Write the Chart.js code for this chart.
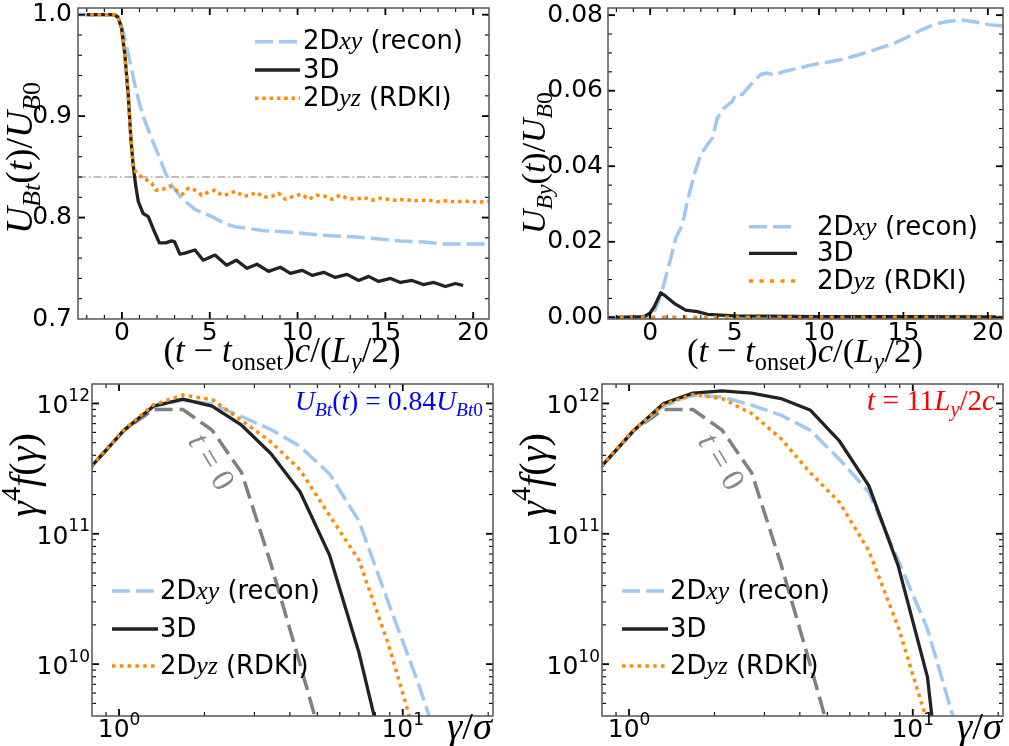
<!DOCTYPE html>
<html><head><meta charset="utf-8">
<script src="https://cdn.jsdelivr.net/npm/chart.js@4/dist/chart.umd.min.js"></script>
<style>
html,body{margin:0;padding:0;background:#fff;}
#wrap{position:relative;width:1009px;height:746px;overflow:hidden;background:#fff;}
canvas{position:absolute;}
</style></head><body>
<div id="wrap">
<canvas id="c1" width="504" height="373" style="left:0;top:0"></canvas>
<canvas id="c2" width="505" height="373" style="left:504px;top:0"></canvas>
<canvas id="c3" width="504" height="373" style="left:0;top:373px"></canvas>
<canvas id="c4" width="505" height="373" style="left:504px;top:373px"></canvas>
</div>
<script>
// ---------------- DATA ----------------
// Panel (a): U_Bt(t)/U_B0 versus (t - t_onset) c/(L_y/2)
const tBtXY = [-2.5,-1.5,-0.5,-0.2,0.17,0.45,0.74,1.02,1.31,1.69,2.07,2.45,2.83,3.40,4.16,5.11,5.87,6.44,6.93,8.07,9.21,10.54,11.87,13.2,14.53,15.86,17.19,18.33,19.47,20.9];
const uBtXY = [1.0,1.0,1.0,0.998,0.977,0.954,0.931,0.911,0.895,0.878,0.862,0.845,0.832,0.819,0.808,0.801,0.794,0.791,0.790,0.787,0.786,0.784,0.782,0.781,0.779,0.777,0.776,0.774,0.774,0.774];
const tBt3D = [-2.0,-0.4,-0.21,-0.02,0.17,0.36,0.51,0.64,0.78,0.93,1.21,1.50,1.78,2.13,2.49,2.83,3.0,3.30,3.59,4.16,4.63,5.30,5.96,6.51,7.12,7.69,8.35,9.02,9.59,10.26,10.83,11.49,12.15,12.82,13.48,14.05,14.62,15.29,15.86,16.52,17.15,17.76,18.42,18.99,19.43];
const uBt3D = [1.0,1.0,0.997,0.987,0.960,0.921,0.878,0.852,0.832,0.816,0.804,0.801,0.789,0.775,0.775,0.777,0.776,0.764,0.765,0.768,0.758,0.763,0.753,0.758,0.750,0.754,0.747,0.751,0.745,0.748,0.743,0.746,0.741,0.744,0.738,0.742,0.737,0.740,0.736,0.738,0.734,0.736,0.732,0.735,0.733];
const tBtYZ = [-1.8,-0.4,-0.21,-0.02,0.17,0.36,0.51,0.64,0.78,0.93,1.31,1.69,1.94,2.35,2.73,3.08,3.44,3.78,4.16,4.54,4.92,5.30,5.68,6.06,6.46,6.93,7.31,7.65,8.07,8.54,8.92,9.30,9.78,10.22,10.64,11.08,11.56,11.97,12.41,12.82,13.30,13.77,14.21,14.69,15.14,15.62,16.10,16.55,17.0,17.5,17.96,18.4,18.9,19.38,19.85,20.3,20.9];
const uBtYZ = [1.0,1.0,0.997,0.987,0.960,0.921,0.878,0.852,0.845,0.842,0.838,0.834,0.827,0.828,0.831,0.827,0.823,0.829,0.827,0.822,0.825,0.827,0.822,0.823,0.826,0.821,0.822,0.825,0.820,0.821,0.824,0.818,0.821,0.823,0.818,0.822,0.821,0.818,0.822,0.819,0.818,0.820,0.817,0.819,0.818,0.817,0.818,0.8165,0.817,0.817,0.8157,0.8165,0.8155,0.816,0.816,0.8152,0.816];
const tThreshold = [-2.5, 20.9];
const uThreshold = [0.84, 0.84];
const ticksTime = [0, 5, 10, 15, 20];
const ticksBt = [0.7, 0.8, 0.9, 1.0];

// Panel (b): U_By(t)/U_B0
const tByXY = [-2.5,-0.5,0.0,0.3,0.63,1.12,1.51,1.91,2.2,2.6,2.99,3.39,3.68,3.98,4.37,4.86,5.06,5.46,5.95,6.54,6.93,7.33,7.92,8.83,9.61,10.6,11.58,12.57,13.55,14.54,15.32,16.11,16.9,17.69,18.48,19.27,20.05,20.9];
const uByXY = [0,0,0.0003,0.002,0.0059,0.0139,0.021,0.0245,0.0307,0.0377,0.043,0.0457,0.0475,0.0528,0.0554,0.0572,0.059,0.059,0.0616,0.0643,0.0647,0.0641,0.0651,0.066,0.0669,0.0676,0.0685,0.0698,0.0712,0.0727,0.0744,0.0762,0.0777,0.0784,0.0787,0.0782,0.0775,0.0771];
const tBy3D = [-2.0,-0.35,0.0,0.24,0.63,0.92,1.42,2.1,2.8,3.39,4.96,7.0,10.0,15.0,20.5];
const uBy3D = [0,0.0002,0.0012,0.0028,0.0065,0.0056,0.0037,0.0019,0.0015,0.0008,0.0004,0.0003,0.0002,0.00015,0.0001];
const tByYZ = [-1.8,0,5,10,15,20,20.9];
const uByYZ = [0,0,0,0,0,0,0];
const ticksBy = [0, 0.02, 0.04, 0.06, 0.08];

// Panels (c),(d): gamma^4 f(gamma) versus gamma/sigma
const gammaBins = [0.649,0.822,1.042,1.323,1.679,2.128,2.704,3.428,4.345,5.521,6.998,8.872,11.27,14.29];
const specT0  = [1.95e11,3.52e11,6.24e11,8.99e11,8.99e11,6.24e11,2.95e11,5.89e10,1.0e10,1.58e9];
const specC_XY = [1.95e11,3.52e11,6.24e11,9.55e11,1.06e12,9.89e11,7.94e11,6.31e11,4.68e11,2.88e11,1.26e11,3.02e10,7.41e9,1.58e9];
const specC_3D = [1.95e11,3.52e11,6.24e11,9.53e11,1.08e12,9.53e11,6.81e11,4.13e11,2.10e11,6.86e10,1.24e10,1.45e9];
const specC_YZ = [1.95e11,3.55e11,6.31e11,9.77e11,1.16e12,1.07e12,7.41e11,5.07e11,3.09e11,1.38e11,6.31e10,1.45e10,2.45e9];
const specD_XY = [1.95e11,3.52e11,6.24e11,9.55e11,1.16e12,1.12e12,9.70e11,8.13e11,6.24e11,3.72e11,2.09e11,6.31e10,1.86e10,3.16e9];
const specD_3D = [1.95e11,3.52e11,6.24e11,1.0e12,1.20e12,1.25e12,1.20e12,1.09e12,8.91e11,5.13e11,2.34e11,5.75e10,7.94e9,7.94e7];
const specD_YZ = [1.95e11,3.55e11,6.31e11,9.77e11,1.17e12,1.09e12,8.38e11,5.38e11,2.95e11,1.74e11,7.41e10,1.95e10,3.55e9];
const ticksGamma = [1, 10];
const expGamma = ['0', '1'];
const ticksSpec = [1e10, 1e11, 1e12];
const expSpec = ['10', '11', '12'];

// ---------------- STYLES ----------------
const C_XY = 'rgb(160,200,240)', C_3D = '#222222', C_YZ = '#ff8c00', C_T0 = '#808080';
const stXY = {borderColor: C_XY, borderWidth: 3.5, borderDash: [18, 6]};
const st3D = {borderColor: C_3D, borderWidth: 3.3, borderDash: []};
const stYZa = {borderColor: C_YZ, borderWidth: 3.5, borderDash: [3.5, 3.8]};
const stYZb = {borderColor: C_YZ, borderWidth: 3.5, borderDash: [4, 6.5]};
const stYZc = {borderColor: C_YZ, borderWidth: 3.5, borderDash: [3.5, 4.3]};
const stT0 = {borderColor: C_T0, borderWidth: 3.5, borderDash: [18, 7]};
const stThr = {borderColor: '#aaaaaa', borderWidth: 1.5, borderDash: [8, 3, 1.5, 3]};

Chart.defaults.font.family = '"DejaVu Sans"';
const TICK_SIZE = 25;

// ---------------- TEXT HELPERS ----------------
const SANS = '"DejaVu Sans"', SERIF = '"Liberation Serif"';
function fontOf(kind, size) {
  if (kind === 'sans') return size + 'px ' + SANS;
  if (kind === 'it') return 'italic ' + size + 'px ' + SERIF;
  return size + 'px ' + SERIF;
}
function layoutRich(ctx, parts, size) {
  let w = 0; const items = [];
  for (const p of parts) {
    const pos = p[2];
    const s = pos ? size * (p[3] || 0.7) : size;
    const dy = pos === 'sub' ? size * 0.22 : (pos === 'sup' ? -size * (p[4] || 0.42) : 0);
    ctx.font = fontOf(p[1], s);
    const tw = ctx.measureText(p[0]).width;
    items.push({t: p[0], font: ctx.font, x: w, dy: dy});
    w += tw;
  }
  return {items: items, w: w};
}
function drawRich(ctx, sp) {
  let size = sp.size;
  let L = layoutRich(ctx, sp.parts, size);
  if (sp.fitW) { size = size * sp.fitW / L.w; L = layoutRich(ctx, sp.parts, size); }
  ctx.save();
  ctx.translate(sp.x, sp.y);
  if (sp.rot) ctx.rotate(sp.rot);
  const x0 = sp.align === 'center' ? -L.w / 2 : (sp.align === 'right' ? -L.w : 0);
  const y0 = sp.vmid ? size * 0.3 : 0;
  ctx.fillStyle = sp.color || '#000';
  ctx.textBaseline = 'alphabetic'; ctx.textAlign = 'left';
  for (const it of L.items) { ctx.font = it.font; ctx.fillText(it.t, x0 + it.x, y0 + it.dy); }
  ctx.restore();
  return size;
}

const L_XY = [['2D', 'sans'], ['xy', 'it'], [' (recon)', 'sans']];
const L_3D = [['3D', 'sans']];
const L_YZ = [['2D', 'sans'], ['yz', 'it'], [' (RDKI)', 'sans']];
const XLAB_T = [['(', 'rm'], ['t', 'it'], [' \u2212 ', 'rm'], ['t', 'it'], ['onset', 'rm', 'sub'], [')', 'rm'], ['c', 'it'], ['/(', 'rm'], ['L', 'it'], ['y', 'it', 'sub'], ['/2)', 'rm']];
const YLAB_BT = [['U', 'it'], ['Bt', 'it', 'sub'], ['(', 'rm'], ['t', 'it'], [')/', 'rm'], ['U', 'it'], ['B', 'it', 'sub'], ['0', 'rm', 'sub']];
const YLAB_BY = [['U', 'it'], ['By', 'it', 'sub'], ['(', 'rm'], ['t', 'it'], [')/', 'rm'], ['U', 'it'], ['B', 'it', 'sub'], ['0', 'rm', 'sub']];
const XLAB_G = [['\u03b3', 'it'], ['/', 'rm'], ['\u03c3', 'it']];
const YLAB_G = [['\u03b3', 'it'], ['4', 'rm', 'sup'], ['f', 'it'], ['(', 'rm'], ['\u03b3', 'it'], [')', 'rm']];
const ANN_C = [['U', 'it'], ['Bt', 'it', 'sub'], ['(', 'rm'], ['t', 'it'], [')', 'rm'], [' = ', 'rm'], ['0.84', 'rm'], ['U', 'it'], ['Bt', 'it', 'sub'], ['0', 'rm', 'sub']];
const ANN_D = [['t', 'it'], [' = ', 'rm'], ['11', 'rm'], ['L', 'it'], ['y', 'it', 'sub'], ['/2', 'rm'], ['c', 'it']];
const ANN_T0 = [['t', 'it'], [' = ', 'rm'], ['0', 'rm']];

// ---------------- DECORATION PLUGIN ----------------
function makeDeco(d) {
  return {
    id: 'deco',
    afterDraw(chart) {
      const ctx = chart.ctx, ca = chart.chartArea, xs = chart.scales.x, ys = chart.scales.y;
      ctx.save();
      ctx.setLineDash([]);
      ctx.strokeStyle = '#000';
      const seg = (a, b, c, e) => { ctx.beginPath(); ctx.moveTo(a, b); ctx.lineTo(c, e); ctx.stroke(); };
      const xt = (vals, len, lw) => {
        ctx.lineWidth = lw;
        for (const v of vals) {
          const p = xs.getPixelForValue(v);
          if (p < ca.left + 1 || p > ca.right - 1) continue;
          seg(p, ca.bottom, p, ca.bottom - len); seg(p, ca.top, p, ca.top + len);
        }
      };
      const yt = (vals, len, lw) => {
        ctx.lineWidth = lw;
        for (const v of vals) {
          const p = ys.getPixelForValue(v);
          if (p < ca.top + 1 || p > ca.bottom - 1) continue;
          seg(ca.left, p, ca.left + len, p); seg(ca.right, p, ca.right - len, p);
        }
      };
      xt(d.xMinor, 4, 1.1); xt(d.xMajor, 7, 1.8);
      yt(d.yMinor, 4, 1.1); yt(d.yMajor, 7, 1.8);
      ctx.strokeStyle = '#555'; ctx.lineWidth = 1.5;
      ctx.strokeRect(ca.left, ca.top, ca.right - ca.left, ca.bottom - ca.top);
      // power-of-ten tick labels for log axes (positions from the chart's scales)
      if (d.logLabels) {
        const pw = (e) => [['10', 'sans'], [e, 'sans', 'sup', 0.68, 0.5]];
        d.logLabels.x.ticks.forEach((v, i) => {
          drawRich(ctx, {parts: pw(d.logLabels.x.exps[i]), size: TICK_SIZE, x: xs.getPixelForValue(v), y: ca.bottom + 21, align: 'center'});
        });
        d.logLabels.y.ticks.forEach((v, i) => {
          drawRich(ctx, {parts: pw(d.logLabels.y.exps[i]), size: TICK_SIZE, x: ca.left - 2, y: ys.getPixelForValue(v) + 10, align: 'right'});
        });
      }
      // legend
      const lg = d.legend;
      let lsize = null;
      lg.entries.forEach((e, i) => {
        const y = lg.rows[i];
        ctx.save();
        ctx.beginPath();
        ctx.strokeStyle = e.st.borderColor; ctx.lineWidth = e.st.borderWidth;
        ctx.setLineDash(e.st.borderDash); ctx.lineCap = 'butt';
        ctx.moveTo(lg.x0, y); ctx.lineTo(lg.x1, y); ctx.stroke();
        ctx.restore();
        if (lsize === null) {
          lsize = drawRich(ctx, {parts: e.parts, size: 21, fitW: lg.fitW, x: lg.tx, y: y, align: 'left', vmid: true});
        } else {
          drawRich(ctx, {parts: e.parts, size: lsize, x: lg.tx, y: y, align: 'left', vmid: true});
        }
      });
      for (const t of d.texts) drawRich(ctx, t);
      ctx.restore();
    }
  };
}

function ds(xv, yv, st, order) {
  return Object.assign({
    data: xv.map((x, i) => ({x: x, y: yv[i]})),
    pointRadius: 0, pointHoverRadius: 0, tension: 0, fill: false, clip: 0, order: order,
    borderCapStyle: 'butt', borderJoinStyle: 'round'
  }, st);
}

function axis(type, min, max, ticks, labelFn, isX, size, pad, showLabels) {
  return {
    type: type, min: min, max: max, position: isX ? 'bottom' : 'left',
    grid: {display: false, drawTicks: false}, border: {display: false},
    ticks: {
      display: showLabels,
      autoSkip: false, maxRotation: 0, minRotation: 0, padding: pad, color: '#000',
      font: {family: 'DejaVu Sans', size: TICK_SIZE, lineHeight: 1},
      callback: function (v) { return labelFn(v); }
    },
    afterBuildTicks: function (s) { s.ticks = ticks.map(v => ({value: v})); },
    afterFit: function (s) {
      if (isX) s.height = size; else s.width = size;
      s.paddingLeft = 0; s.paddingRight = 0; s.paddingTop = 0; s.paddingBottom = 0;
    }
  };
}

function makeChart(id, cfg) {
  return new Chart(document.getElementById(id), {
    type: 'line',
    data: {datasets: cfg.datasets},
    options: {
      responsive: false, animation: false, devicePixelRatio: 1,
      layout: {padding: cfg.pad, autoPadding: false},
      plugins: {legend: {display: false}, tooltip: {enabled: false}},
      scales: {x: cfg.x, y: cfg.y}
    },
    plugins: [makeDeco(cfg.deco)]
  });
}

function range(a, b, step) { const r = []; for (let v = a; v <= b + 1e-9; v += step) r.push(+v.toFixed(6)); return r; }
function logMinor(d0, d1) { const r = []; for (let d = d0; d <= d1; d++) for (let m = 2; m <= 9; m++) r.push(m * Math.pow(10, d)); return r; }

const legendEntries = (stYZ) => [
  {st: stXY, parts: L_XY}, {st: st3D, parts: L_3D}, {st: stYZ, parts: L_YZ}
];
const logLabels = {x: {ticks: ticksGamma, exps: expGamma}, y: {ticks: ticksSpec, exps: expSpec}};

// Panel (a)
makeChart('c1', {
  pad: {left: 0, top: 8, right: 15, bottom: 0},
  datasets: [
    ds(tBtXY, uBtXY, stXY, 3), ds(tBt3D, uBt3D, st3D, 2), ds(tBtYZ, uBtYZ, stYZa, 1),
    ds(tThreshold, uThreshold, stThr, 5)
  ],
  x: axis('linear', -2.5, 20.9, ticksTime, v => String(v), true, 54, 2, true),
  y: axis('linear', 0.7, 1.0066, ticksBt, v => v.toFixed(1), false, 78, 6, true),
  deco: {
    xMajor: ticksTime, xMinor: range(-2, 20, 1), yMajor: ticksBt, yMinor: range(0.7, 1.0, 0.02),
    legend: {rows: [41.7, 70, 98.3], x0: 255, x1: 300, tx: 303, fitW: 160, entries: legendEntries(stYZa)},
    texts: [
      {parts: XLAB_T, size: 27, fitW: 237, x: 282, y: 362, align: 'center'},
      {parts: YLAB_BT, size: 30, fitW: 152, x: 32, y: 158, align: 'center', rot: -Math.PI / 2}
    ]
  }
});

// Panel (b)
makeChart('c2', {
  pad: {left: 0, top: 8, right: 6, bottom: 0},
  datasets: [ds(tByXY, uByXY, stXY, 3), ds(tBy3D, uBy3D, st3D, 2), ds(tByYZ, uByYZ, stYZb, 1)],
  x: axis('linear', -2.5, 20.9, ticksTime, v => String(v), true, 54, 2, true),
  y: axis('linear', -0.00045, 0.0819, ticksBy, v => v.toFixed(2), false, 104, 5, true),
  deco: {
    xMajor: ticksTime, xMinor: range(-2, 20, 1), yMajor: ticksBy, yMinor: range(0, 0.08, 0.005),
    legend: {rows: [226.7, 253.3, 281], x0: 245, x1: 293, tx: 313, fitW: 161, entries: legendEntries(stYZb)},
    texts: [
      {parts: XLAB_T, size: 27, fitW: 236, x: 301, y: 362, align: 'center'},
      {parts: YLAB_BY, size: 30, fitW: 142, x: 41, y: 163, align: 'center', rot: -Math.PI / 2}
    ]
  }
});

// Panel (c)
makeChart('c3', {
  pad: {left: 0, top: 11, right: 11, bottom: 0},
  datasets: [
    ds(gammaBins, specC_XY, stXY, 3), ds(gammaBins, specC_3D, st3D, 2), ds(gammaBins, specC_YZ, stYZc, 1),
    ds(gammaBins, specT0, stT0, 4)
  ],
  x: axis('logarithmic', 0.803, 20.8, ticksGamma, v => '', true, 30, 0, false),
  y: axis('logarithmic', 4.0e9, 1.41e12, ticksSpec, v => '', false, 92, 2, false),
  deco: {
    xMajor: ticksGamma, xMinor: logMinor(-1, 1), yMajor: ticksSpec, yMinor: logMinor(9, 11),
    logLabels: logLabels,
    legend: {rows: [218, 256, 293], x0: 112, x1: 158, tx: 160, fitW: 160, entries: legendEntries(stYZc)},
    texts: [
      {parts: XLAB_G, size: 28, fitW: 45, x: 492, y: 366, align: 'right'},
      {parts: YLAB_G, size: 28, fitW: 84, x: 37, y: 102, align: 'center', rot: -Math.PI / 2},
      {parts: ANN_C, size: 26, fitW: 188, x: 483, y: 37, align: 'right', color: '#0000ff'},
      {parts: ANN_T0, size: 26, fitW: 60, x: 211, y: 89, align: 'center', vmid: true, rot: 59 * Math.PI / 180, color: '#888888'}
    ]
  }
});

// Panel (d)
makeChart('c4', {
  pad: {left: 0, top: 11, right: 6, bottom: 0},
  datasets: [
    ds(gammaBins, specD_XY, stXY, 3), ds(gammaBins, specD_3D, st3D, 2), ds(gammaBins, specD_YZ, stYZc, 1),
    ds(gammaBins, specT0, stT0, 4)
  ],
  x: axis('logarithmic', 0.803, 20.8, ticksGamma, v => '', true, 30, 0, false),
  y: axis('logarithmic', 4.0e9, 1.41e12, ticksSpec, v => '', false, 98, 2, false),
  deco: {
    xMajor: ticksGamma, xMinor: logMinor(-1, 1), yMajor: ticksSpec, yMinor: logMinor(9, 11),
    logLabels: logLabels,
    legend: {rows: [218, 256, 293], x0: 118, x1: 164, tx: 166, fitW: 160, entries: legendEntries(stYZc)},
    texts: [
      {parts: XLAB_G, size: 28, fitW: 45, x: 498, y: 366, align: 'right'},
      {parts: YLAB_G, size: 28, fitW: 84, x: 43, y: 102, align: 'center', rot: -Math.PI / 2},
      {parts: ANN_D, size: 26, fitW: 128, x: 491, y: 37, align: 'right', color: '#ff0000'},
      {parts: ANN_T0, size: 26, fitW: 60, x: 217, y: 89, align: 'center', vmid: true, rot: 59 * Math.PI / 180, color: '#888888'}
    ]
  }
});
</script>
</body></html>
